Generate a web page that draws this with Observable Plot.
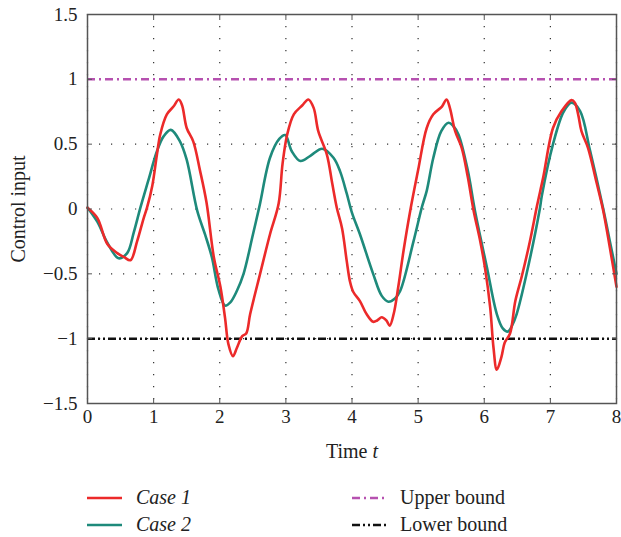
<!DOCTYPE html>
<html>
<head>
<meta charset="utf-8">
<script src="https://cdn.jsdelivr.net/npm/d3@7"></script>
<script src="https://cdn.jsdelivr.net/npm/@observablehq/plot@0.6"></script>
<style>
  html, body { margin: 0; padding: 0; background: #fff; }
  #wrap { position: relative; width: 621px; height: 537px; font-family: "Liberation Serif", "DejaVu Serif", serif; }
  .leg { position: absolute; font-size: 20px; line-height: 22px; color: #222; white-space: nowrap; }
  .leg svg { position: absolute; top: 0; }
  .leg span { position: absolute; top: -1px; }
</style>
</head>
<body>
<div id="wrap"></div>
<script>
// ---- data ----
const case1T = [0, 0.15, 0.3, 0.45, 0.55, 0.65, 0.75, 0.85, 0.9, 0.98, 1.05, 1.1, 1.2, 1.3, 1.38, 1.43, 1.5, 1.6, 1.7, 1.8, 1.91, 2.01, 2.08, 2.13, 2.2, 2.26, 2.34, 2.4, 2.46, 2.61, 2.76, 2.89, 2.95, 3.02, 3.12, 3.25, 3.34, 3.42, 3.49, 3.62, 3.7, 3.77, 3.85, 3.92, 3.97, 4.02, 4.12, 4.22, 4.32, 4.38, 4.45, 4.52, 4.57, 4.63, 4.7, 4.78, 4.88, 5.0, 5.13, 5.23, 5.36, 5.43, 5.48, 5.56, 5.66, 5.75, 5.84, 5.94, 6.01, 6.09, 6.14, 6.19, 6.26, 6.31, 6.39, 6.47, 6.57, 6.69, 6.8, 6.89, 7.04, 7.17, 7.32, 7.37, 7.42, 7.47, 7.57, 7.7, 7.8, 7.9, 8.0];
const case1V = [0.01, -0.07, -0.27, -0.34, -0.37, -0.395, -0.25, -0.07, 0.01, 0.18, 0.42, 0.575, 0.73, 0.79, 0.845, 0.8, 0.625, 0.52, 0.3, 0.05, -0.37, -0.6, -0.84, -1.04, -1.135, -1.07, -0.98, -0.96, -0.81, -0.5, -0.195, 0.04, 0.35, 0.575, 0.73, 0.8, 0.845, 0.78, 0.6, 0.42, 0.2, 0.01, -0.15, -0.4, -0.56, -0.64, -0.71, -0.81, -0.87, -0.86, -0.835, -0.86, -0.9, -0.81, -0.6, -0.32, -0.015, 0.3, 0.625, 0.73, 0.79, 0.845, 0.78, 0.6, 0.47, 0.25, -0.015, -0.25, -0.45, -0.76, -1.07, -1.24, -1.14, -1.03, -0.96, -0.71, -0.515, -0.25, 0.03, 0.24, 0.625, 0.755, 0.84, 0.82, 0.73, 0.6, 0.47, 0.2, -0.015, -0.3, -0.6];

const case2T = [0, 0.15, 0.3, 0.47, 0.6, 0.7, 0.8, 0.92, 1.05, 1.15, 1.26, 1.4, 1.5, 1.66, 1.78, 1.88, 1.98, 2.08, 2.16, 2.26, 2.36, 2.5, 2.6, 2.76, 2.9, 2.99, 3.09, 3.22, 3.37, 3.55, 3.72, 3.82, 3.92, 4.0, 4.12, 4.32, 4.45, 4.55, 4.65, 4.73, 4.93, 5.06, 5.13, 5.23, 5.35, 5.46, 5.53, 5.61, 5.75, 5.86, 6.04, 6.19, 6.28, 6.36, 6.42, 6.49, 6.64, 6.84, 6.87, 7.04, 7.2, 7.32, 7.45, 7.6, 7.8, 7.9, 8.0];
const case2V = [0.01, -0.1, -0.26, -0.38, -0.34, -0.18, 0.01, 0.22, 0.445, 0.56, 0.61, 0.52, 0.38, -0.015, -0.2, -0.37, -0.62, -0.745, -0.72, -0.63, -0.5, -0.2, 0.02, 0.395, 0.54, 0.57, 0.445, 0.37, 0.41, 0.465, 0.395, 0.29, 0.12, -0.03, -0.195, -0.5, -0.67, -0.715, -0.69, -0.63, -0.25, 0.02, 0.14, 0.395, 0.6, 0.665, 0.64, 0.575, 0.3, -0.015, -0.45, -0.81, -0.92, -0.945, -0.9, -0.81, -0.5, 0.0, 0.1, 0.5, 0.75, 0.82, 0.755, 0.45, 0.0, -0.25, -0.5];

const upperBound = [1];
const lowerBound = [-1];

const xTicks = [0, 1, 2, 3, 4, 5, 6, 7, 8];
const xTickLabels = ["0", "1", "2", "3", "4", "5", "6", "7", "8"];
const yTicks = [1.5, 1, 0.5, 0, -0.5, -1, -1.5];
const yTickLabels = ["1.5", "1", "0.5", "0", "\u22120.5", "\u22121", "\u22121.5"];

const seriesNames = ["Case 1", "Case 2"];
const boundNames = ["Upper bound", "Lower bound"];

// ---- styles ----
const RED = "#ec2a2a";
const TEAL = "#1e8a7b";
const MAGENTA = "#b651b0";
const FONT = "Liberation Serif, DejaVu Serif, serif";

const case1 = case1T.map((t, i) => ({t, v: case1V[i]}));
const case2 = case2T.map((t, i) => ({t, v: case2V[i]}));
const blank = () => "";

const plot = Plot.plot({
  width: 621,
  height: 470,
  marginLeft: 87,
  marginRight: 5,
  marginTop: 14,
  marginBottom: 67,
  style: {fontFamily: FONT, fontSize: "19px", color: "#222", background: "#fff"},
  x: {domain: [0, 8], axis: null},
  y: {domain: [-1.5, 1.5], axis: null},
  marks: [
    Plot.gridX(xTicks, {stroke: "#333", strokeOpacity: 1, strokeWidth: 1.2, strokeDasharray: "1.2,10.8"}),
    Plot.gridY(yTicks, {stroke: "#333", strokeOpacity: 1, strokeWidth: 1.2, strokeDasharray: "1.2,10.8"}),
    Plot.ruleY(upperBound, {stroke: MAGENTA, strokeWidth: 2.5, strokeDasharray: "8,4,2,4"}),
    Plot.ruleY(lowerBound, {stroke: "#111", strokeWidth: 2.5, strokeDasharray: "8,3,2,3,2,3"}),
    Plot.line(case2, {x: "t", y: "v", stroke: TEAL, strokeWidth: 2.6, curve: "catmull-rom"}),
    Plot.line(case1, {x: "t", y: "v", stroke: RED, strokeWidth: 2.6, curve: "catmull-rom"}),
    Plot.frame({stroke: "#555", strokeWidth: 1.5}),
    // inward ticks on all four sides
    Plot.axisX(xTicks, {anchor: "bottom", tickSize: -5, tickFormat: blank, stroke: "#555", label: null}),
    Plot.axisX(xTicks, {anchor: "top", tickSize: -5, tickFormat: blank, stroke: "#555", label: null}),
    Plot.axisY(yTicks, {anchor: "left", tickSize: -5, tickFormat: blank, stroke: "#555", label: null}),
    Plot.axisY(yTicks, {anchor: "right", tickSize: -5, tickFormat: blank, stroke: "#555", label: null}),
    // tick labels
    Plot.text(xTicks, {x: d => d, text: (d, i) => xTickLabels[i], frameAnchor: "bottom", lineAnchor: "top", dy: 6, fontSize: 19, fill: "#222"}),
    Plot.text(yTicks, {y: d => d, text: (d, i) => yTickLabels[i], frameAnchor: "left", textAnchor: "end", dx: -10, fontSize: 19, fill: "#222"}),
    // axis titles
    Plot.text(["Time t"], {frameAnchor: "bottom", dy: 54, fontSize: 20, fill: "#222", className: "xlab"}),
    Plot.text(["Control input"], {frameAnchor: "left", textAnchor: "middle", dx: -69, rotate: -90, fontSize: 20, fill: "#222", className: "ylab"})
  ]
});

document.getElementById("wrap").appendChild(plot);
// italic t in the x label
d3.select(plot).select(".xlab text").html('Time <tspan font-style="italic">t</tspan>');

// ---- legend ----
const wrap = document.getElementById("wrap");
const legendItems = [
  {name: seriesNames[0], italic: true, color: RED, dash: null, sx: 87, tx: 136, y: 487},
  {name: seriesNames[1], italic: true, color: TEAL, dash: null, sx: 87, tx: 136, y: 514},
  {name: boundNames[0], italic: false, color: MAGENTA, dash: "8,4,2,4", sx: 352, tx: 400, y: 487},
  {name: boundNames[1], italic: false, color: "#111", dash: "8,3,2,3,2,3", sx: 352, tx: 400, y: 514}
];
legendItems.forEach(it => {
  const d = document.createElement("div");
  d.className = "leg";
  d.style.left = it.sx + "px";
  d.style.top = it.y + "px";
  d.style.width = "220px";
  d.style.height = "22px";
  d.innerHTML = `<svg width="36" height="22" style="left:0"><line x1="0" x2="35" y1="11" y2="11" stroke="${it.color}" stroke-width="2.6" ${it.dash ? `stroke-dasharray="${it.dash}"` : ""}/></svg>` +
    `<span style="left:${it.tx - it.sx}px;${it.italic ? "font-style:italic;" : ""}">${it.name}</span>`;
  wrap.appendChild(d);
});
</script>
</body>
</html>
